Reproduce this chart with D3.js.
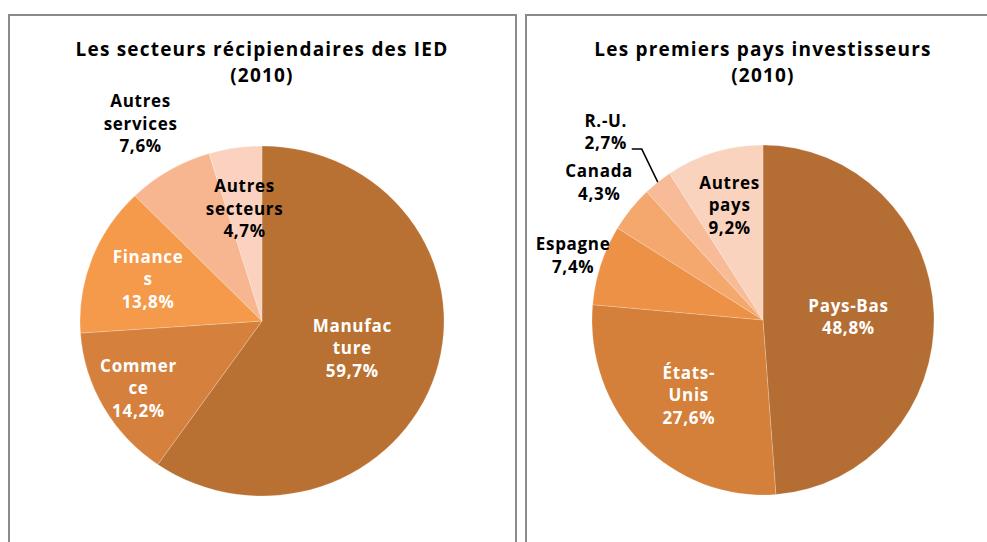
<!DOCTYPE html>
<html>
<head>
<meta charset="utf-8">
<script src="https://cdn.jsdelivr.net/npm/d3@7"></script>
<style>
  body { margin: 0; background: #fff; }
  svg { display: block; }
  text { font-family: "Open Sans", sans-serif; font-weight: 700; }
</style>
</head>
<body>
<svg id="chart" width="987" height="542"></svg>
<script>
// Secteurs
const sectorNames = [["Manufac", "ture"], ["Commer", "ce"], ["Finance", "s"], ["Autres", "services"], ["Autres", "secteurs"]];
const sectorValues = [59.7, 14.2, 13.8, 7.6, 4.7];
const sectorColors = ["#b97133", "#d5813d", "#f59a4a", "#f7b68f", "#fad2bf"];

// Pays
const countryNames = [["Pays-Bas"], ["États-", "Unis"], ["Espagne"], ["Canada"], ["R.-U."], ["Autres", "pays"]];
const countryValues = [48.8, 27.6, 7.4, 4.3, 2.7, 9.2];
const countryColors = ["#b46e33", "#d4803a", "#ec9146", "#f4a86d", "#f7bb98", "#fad3bf"];

const svg = d3.select("#chart")
const fmt = v => d3.format(".1f")(v).replace(".", ",") + "%"

// panel frames
svg.append("rect").attr("x", 9).attr("y", 15).attr("width", 507).attr("height", 560)
  .attr("fill", "none").attr("stroke", "#8a8a8a").attr("stroke-width", 2)
svg.append("rect").attr("x", 526).attr("y", 15).attr("width", 480).attr("height", 560)
  .attr("fill", "none").attr("stroke", "#8a8a8a").attr("stroke-width", 2)

function drawPie(opts) {
  const {cx, cy, rx, ry, names, values, colors, title, labelR, darkText, leader} = opts
  const g = svg.append("g").attr("transform", `translate(${cx},${cy})`)
  const sx = rx / ry

  title.forEach((t, i) => {
    svg.append("text").attr("text-anchor", "middle").attr("font-size", 19)
      .attr("letter-spacing", 1.2).attr("fill", "#000")
      .attr("x", cx).attr("y", 56 + i * 26).text(t)
  })

  const arcs = d3.pie().sort(null).value(d => d)(values)
  const arc = d3.arc().innerRadius(0).outerRadius(ry)

  g.append("g").attr("transform", `scale(${sx},1)`)
    .selectAll("path")
    .data(arcs)
    .join("path")
    .attr("d", arc)
    .attr("fill", (d, i) => colors[i])
    .attr("stroke", "#fff")
    .attr("stroke-opacity", 0.35)
    .attr("stroke-width", 0.6)

  arcs.forEach((d, i) => {
    const lines = names[i].concat([fmt(values[i])])
    let x, y
    if (leader === i) {
      // leader line for the thin slice
      const mid = (d.startAngle + d.endAngle) / 2
      const p0 = [Math.sin(mid) * ry * sx, -Math.cos(mid) * ry]
      const p1 = [p0[0] - 16, p0[1] - 33]
      const p2 = [p1[0] - 10, p1[1]]
      g.append("path").attr("d", d3.line()([p0, p1, p2]))
        .attr("fill", "none").attr("stroke", "#000").attr("stroke-width", 1.5)
      x = p2[0] - 26
      y = p2[1] - 17
    } else {
      const c = d3.arc().innerRadius(ry * labelR[i]).outerRadius(ry * labelR[i]).centroid(d)
      x = c[0] * sx
      y = c[1]
    }
    const t = g.append("text").attr("text-anchor", "middle").attr("font-size", 17)
      .attr("letter-spacing", 0.7)
      .attr("fill", darkText.includes(i) ? "#000" : "#fff")
    lines.forEach((s, j) => {
      t.append("tspan").attr("x", x).attr("y", y + (j - (lines.length - 1) / 2) * 22.5)
        .attr("dy", "0.36em").text(s)
    })
  })
}

drawPie({
  cx: 262, cy: 321, rx: 182, ry: 175,
  names: sectorNames, values: sectorValues, colors: sectorColors,
  title: ["Les secteurs récipiendaires des IED", "(2010)"],
  labelR: [0.52, 0.78, 0.67, 1.31, 0.65],
  darkText: [3, 4]
})

drawPie({
  cx: 763, cy: 320, rx: 171, ry: 175,
  names: countryNames, values: countryValues, colors: countryColors,
  title: ["Les premiers pays investisseurs", "(2010)"],
  labelR: [0.5, 0.61, 1.17, 1.24, 1.2, 0.685],
  darkText: [2, 3, 4, 5],
  leader: 4
})
</script>
</body>
</html>
